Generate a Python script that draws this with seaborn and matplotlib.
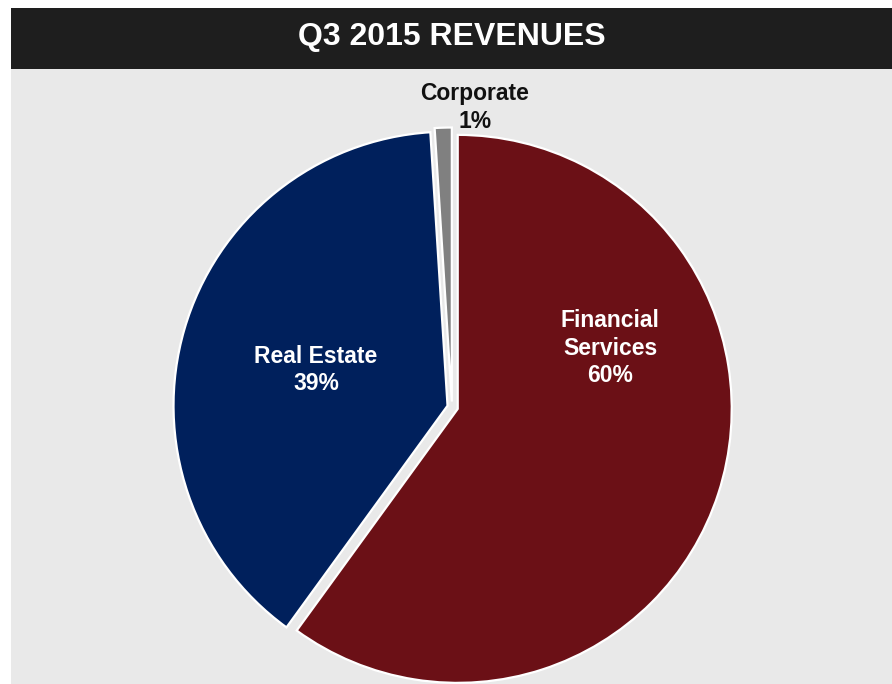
import matplotlib
matplotlib.use("Agg")
import matplotlib.pyplot as plt
from matplotlib.patches import Rectangle
import seaborn as sns

sns.set_theme(style="white")
plt.rcParams["font.family"] = ["Liberation Sans", "DejaVu Sans"]

# Revenue split by segment
segments = ["Financial\nServices", "Real Estate", "Corporate"]
shares = [60, 39, 1]
explode = [0.022, 0.017, 0.02]
colors = sns.color_palette(["#6b1016", "#00205c", "#808080"])
label_colors = ["white", "white", "#111111"]
label_pos = [(0.577, 0.215), (-0.496, 0.135), (0.084, 1.093)]
title = "Q3 2015 REVENUES"

W, H = 892, 684
fig = plt.figure(figsize=(W / 100, H / 100), dpi=100)
fig.patch.set_facecolor("white")

# title banner and panel background (pixel geometry converted to figure fractions)
fig.patches.append(Rectangle((11 / W, 1 - 69 / H), (W - 11) / W, 61 / H,
                             transform=fig.transFigure, facecolor="#1e1e1e",
                             edgecolor="none", zorder=-2))
fig.patches.append(Rectangle((11 / W, 0), (W - 11) / W, 1 - 69 / H,
                             transform=fig.transFigure, facecolor="#e9e9e9",
                             edgecolor="none", zorder=-2))
fig.text((11 + W) / 2 / W, 1 - 37 / H, title, color="white", fontsize=23,
         fontweight="bold", ha="center", va="center")

ax = fig.add_axes([11 / W, 0, (W - 11) / W, 1 - 69 / H])
ax.set_zorder(1)
ax.pie(shares, colors=colors, explode=explode, startangle=90, counterclock=False,
       wedgeprops=dict(edgecolor="white", linewidth=1.6))
ax.set_aspect("auto")
r = 274.0
ax.set_xlim((11 - 452) / r, (W - 452) / r)
ax.set_ylim(-(H - 407) / r, (407 - 69) / r)
ax.set_axis_off()

for name, val, c, (x, y) in zip(segments, shares, label_colors, label_pos):
    ax.text(x, y, f"{name}\n{val:.0f}%", color=c, fontsize=16.5, fontweight="bold",
            ha="center", va="center", linespacing=1.25)

fig.savefig("out.png", dpi=100, facecolor=fig.get_facecolor())
